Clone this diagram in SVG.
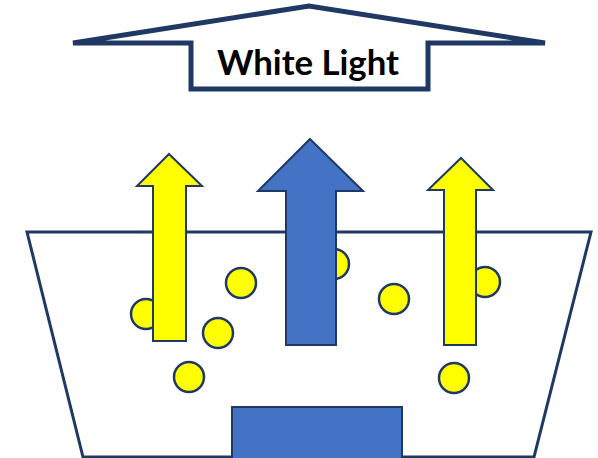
<svg xmlns="http://www.w3.org/2000/svg" width="598" height="458" viewBox="0 0 598 458">
  <style>
    .outline { fill: #ffffff; stroke: #1f3864; stroke-linejoin: miter; }
    .bead { fill: #ffff00; stroke: #1f3864; stroke-width: 2.5; }
    .yellow { fill: #ffff00; stroke: #1f3864; stroke-width: 2; }
    .blue { fill: #4472c4; stroke: #1f3864; stroke-width: 2; }
    .label { font-family: Lato, "Liberation Sans", Arial, sans-serif; font-weight: bold; font-size: 35px; fill: #000000; }
  </style>
  <rect width="598" height="458" fill="#ffffff"/>

  <!-- output banner -->
  <g id="white-light">
    <polygon class="outline" stroke-width="5" points="73,43 309,6 545,43 428,43 428,89 191,89 191,43"/>
    <text class="label" x="308" y="75" text-anchor="middle" textLength="182" lengthAdjust="spacingAndGlyphs">White Light</text>
  </g>

  <!-- container -->
  <g id="container">
    <polygon class="outline" stroke-width="3" points="27,232 591,232 534,457 83,457"/>
  </g>

  <!-- particles -->
  <g id="particles">
    <circle class="bead" cx="146" cy="314" r="15"/>
    <circle class="bead" cx="241" cy="283" r="15"/>
    <circle class="bead" cx="218" cy="333" r="15"/>
    <circle class="bead" cx="189" cy="377" r="15"/>
    <circle class="bead" cx="334" cy="264" r="15"/>
    <circle class="bead" cx="394" cy="299" r="15"/>
    <circle class="bead" cx="485" cy="282" r="15"/>
    <circle class="bead" cx="454" cy="378" r="15"/>
  </g>

  <!-- emitted light arrows -->
  <g id="connectors">
    <polygon id="arrow-yellow-left" class="yellow" points="169,154 202,186 186,186 186,341 153,341 153,186 137,186"/>
    <polygon id="arrow-blue" class="blue" points="310,139 363,191 336,191 336,345 286,345 286,191 258,191"/>
    <polygon id="arrow-yellow-right" class="yellow" points="461,158 493,190 476,190 476,345 444,345 444,190 428,190"/>
  </g>

  <!-- source -->
  <g id="source">
    <rect class="blue" x="232" y="407" width="170" height="60"/>
  </g>
</svg>
